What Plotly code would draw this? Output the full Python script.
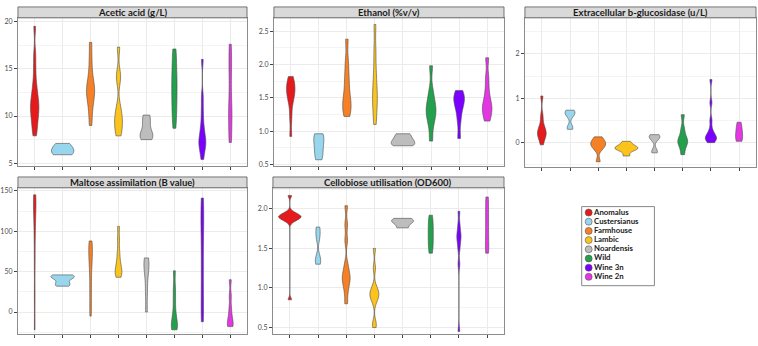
import plotly.graph_objects as go

W, H = 758, 346

groups = ["Anomalus", "Custersianus", "Farmhouse", "Lambic", "Noardensis", "Wild", "Wine 3n", "Wine 2n"]
colors = ["#E41A1C", "#97D6EC", "#F58025", "#FBC31B", "#BDBDBD", "#22A04B", "#7B00FF", "#E337E3"]

titles = ["Acetic acid (g/L)", "Ethanol (%v/v)", "Extracellular b-glucosidase (u/L)",
          "Maltose assimilation (B value)", "Cellobiose utilisation (OD600)"]

# ---- sample values (one list per group) ----
acetic = [
    [7.9, 8.6, 9.2, 9.8, 10.2, 10.6, 11.0, 11.3, 11.7, 12.2, 12.8, 13.6, 15.0, 16.5, 19.5],
    [5.9, 6.1, 6.3, 6.6, 7.1],
    [9.0, 10.5, 11.5, 12.2, 12.6, 13.0, 13.5, 14.5, 16.0, 17.8],
    [7.9, 8.5, 9.2, 9.6, 10.2, 11.0, 13.8, 14.5, 17.3],
    [7.5, 7.9, 8.2, 9.3, 10.1],
    [8.7, 10.0, 11.0, 12.0, 13.0, 13.8, 14.8, 16.0, 17.1],
    [5.4, 6.3, 6.8, 7.1, 7.4, 7.8, 8.4, 9.2, 10.5, 12.0, 16.0],
    [7.2, 8.5, 10.0, 10.8, 12.5, 14.5, 16.0, 17.6],
]
ethanol = [
    [0.92, 1.2, 1.4, 1.5, 1.55, 1.6, 1.65, 1.7, 1.75, 1.82],
    [0.57, 0.68, 0.8, 0.9, 0.96],
    [1.22, 1.3, 1.38, 1.45, 1.55, 1.7, 1.85, 2.05, 2.38],
    [1.1, 1.3, 1.45, 1.55, 1.7, 1.9, 2.2, 2.6],
    [0.78, 0.82, 0.88, 0.96],
    [0.85, 1.1, 1.22, 1.3, 1.35, 1.45, 1.6, 1.98],
    [0.89, 1.15, 1.3, 1.4, 1.45, 1.5, 1.55, 1.61],
    [1.15, 1.25, 1.32, 1.38, 1.45, 1.6, 1.8, 2.1],
]
glucosidase = [
    [-0.05, 0.1, 0.15, 0.2, 0.25, 0.3, 0.4, 0.6, 1.05],
    [0.3, 0.36, 0.6, 0.65, 0.7, 0.73],
    [-0.43, -0.15, -0.08, -0.04, 0.0, 0.05, 0.13],
    [-0.3, -0.18, -0.14, -0.12, -0.1, -0.05, 0.03],
    [-0.23, -0.18, 0.08, 0.12, 0.15, 0.18],
    [-0.27, -0.08, 0.0, 0.05, 0.12, 0.3, 0.63],
    [0.0, 0.05, 0.08, 0.1, 0.12, 0.15, 0.2, 0.3, 0.5, 0.9, 1.42],
    [0.03, 0.08, 0.15, 0.25, 0.35, 0.46],
]
maltose = [
    [-22, 20, 60, 90, 110, 125, 135, 140, 145],
    [32, 36, 42, 44, 46],
    [-5, 15, 35, 55, 65, 75, 82, 88],
    [43, 46, 50, 53, 58, 65, 75, 90, 106],
    [0, 25, 45, 55, 62, 67],
    [-22, -20, -15, -10, 0, 15, 30, 51],
    [-12, 10, 40, 70, 100, 120, 141],
    [-18, -16, -12, -5, 5, 20, 40],
]
cellobiose = [
    [0.85, 1.84, 1.86, 1.88, 1.89, 1.9, 1.9, 1.91, 1.92, 1.94, 1.96, 2.17],
    [1.3, 1.34, 1.4, 1.62, 1.7, 1.77],
    [0.8, 0.95, 1.05, 1.1, 1.15, 1.2, 1.3, 1.6, 1.8, 2.04],
    [0.5, 0.56, 0.82, 0.88, 0.91, 0.93, 0.96, 1.02, 1.25, 1.5],
    [1.76, 1.82, 1.85, 1.88],
    [1.44, 1.52, 1.6, 1.68, 1.76, 1.84, 1.92],
    [0.45, 1.3, 1.5, 1.6, 1.65, 1.7, 1.8, 1.97],
    [1.44, 1.55, 1.7, 1.85, 2.0, 2.15],
]
panels_data = [acetic, ethanol, glucosidase, maltose, cellobiose]

# tick labels
acetic_ticks = ["5", "10", "15", "20"]
ethanol_ticks = ["0.5", "1.0", "1.5", "2.0", "2.5"]
glucosidase_ticks = ["0", "1", "2"]
maltose_ticks = ["0", "50", "100", "150"]
cellobiose_ticks = ["0.5", "1.0", "1.5", "2.0"]
panel_ticks = [acetic_ticks, ethanol_ticks, glucosidase_ticks, maltose_ticks, cellobiose_ticks]

# ---- styling (not data) ----
bandwidths = [
    [0.8, 0.6, 0.9, 0.8, 0.6, 1.2, 0.7, 1.2],
    [0.1, 0.1, 0.12, 0.15, 0.05, 0.12, 0.1, 0.1],
    [0.1, 0.07, 0.08, 0.05, 0.07, 0.1, 0.08, 0.12],
    [15, 3, 12, 6, 10, 8, 20, 6],
    [0.03, 0.06, 0.07, 0.06, 0.03, 0.1, 0.06, 0.1],
]
widths = [
    [0.30, 0.80, 0.29, 0.28, 0.46, 0.19, 0.25, 0.12],
    [0.30, 0.36, 0.30, 0.17, 0.84, 0.35, 0.38, 0.34],
    [0.31, 0.35, 0.53, 0.82, 0.38, 0.35, 0.40, 0.25],
    [0.09, 0.84, 0.13, 0.24, 0.18, 0.22, 0.10, 0.21],
    [0.80, 0.19, 0.28, 0.32, 0.78, 0.18, 0.15, 0.12],
]
# pixel boxes of plot panels: (left, right, top, bottom)
boxes = [(15, 245, 16, 166), (272, 503, 16, 166), (524, 756, 16, 167),
         (15, 245, 188, 336), (271, 503, 188, 336)]
strip_h = 11
yranges = [(4.7, 20.4), (0.475, 2.70), (-0.55, 2.81), (-27.3, 153.7), (0.416, 2.266)]
minor_dt = [2.5, 0.25, 0.5, 25, 0.25]

FONT = "Lato"

fig = go.Figure()
layout = dict(width=W, height=H, margin=dict(l=0, r=0, t=0, b=0),
              paper_bgcolor="white", plot_bgcolor="white", showlegend=False,
              violinmode="overlay", shapes=[], annotations=[])

for p in range(5):
    l, r, t, b = boxes[p]
    sfx = "" if p == 0 else str(p + 1)
    xa, ya = "x" + sfx, "y" + sfx
    for g in range(8):
        vals = panels_data[p][g]
        fig.add_trace(go.Violin(
            x=[groups[g]] * len(vals), y=vals, xaxis=xa, yaxis=ya,
            name=groups[g], fillcolor=colors[g], opacity=1,
            line=dict(color="#4D4D4D", width=0.6),
            spanmode="hard", bandwidth=bandwidths[p][g], width=widths[p][g],
            scalemode="width", points=False, hoverinfo="skip"))
    ticks = panel_ticks[p]
    layout["xaxis" + sfx] = dict(
        domain=[l / W, r / W], anchor=ya, type="category", categoryorder="array",
        categoryarray=groups, range=[-0.6, 7.6], showticklabels=False,
        ticks="outside", ticklen=3, tickcolor="#444", tickwidth=0.7,
        showgrid=True, gridcolor="#EBEBEB", gridwidth=0.7,
        showline=True, mirror=True, linecolor="#8C8C8C", linewidth=1, zeroline=False)
    layout["yaxis" + sfx] = dict(
        domain=[1 - b / H, 1 - t / H], anchor=xa, range=list(yranges[p]),
        tickvals=[float(v) for v in ticks], ticktext=ticks,
        tickfont=dict(family=FONT, size=7, color="#4D4D4D"),
        ticks="outside", ticklen=3, tickcolor="#444", tickwidth=0.7,
        showgrid=True, gridcolor="#EBEBEB", gridwidth=0.7,
        minor=dict(dtick=minor_dt[p], tick0=0, showgrid=True, gridcolor="#F4F4F4", gridwidth=0.5),
        showline=True, mirror=True, linecolor="#8C8C8C", linewidth=1, zeroline=False)
    # strip
    layout["shapes"].append(dict(type="rect", xref="paper", yref="paper",
                                 x0=l / W, x1=r / W, y0=1 - t / H, y1=1 - (t - strip_h) / H,
                                 fillcolor="#D9D9D9", line=dict(color="#555555", width=0.8)))
    layout["annotations"].append(dict(xref="paper", yref="paper", x=(l + r) / 2 / W,
                                      y=1 - (t - strip_h / 2) / H, text="<b>" + titles[p] + "</b>",
                                      showarrow=False, font=dict(family=FONT, size=9.5, color="#1A1A1A"),
                                      xanchor="center", yanchor="middle"))

# ---- legend drawn as a small scatter panel ----
lg_l, lg_r, lg_t, lg_b = 581, 654, 207, 287
fig.add_trace(go.Scatter(
    x=[0.096] * 8, y=list(range(1, 9)), xaxis="x6", yaxis="y6",
    mode="markers+text", text=["<b>" + g + "</b>" for g in groups], textposition="middle right",
    textfont=dict(family=FONT, size=7.8, color="#1A1A1A"),
    marker=dict(size=7, color=colors, line=dict(color="#555555", width=0.6)),
    hoverinfo="skip", cliponaxis=False))
layout["xaxis6"] = dict(domain=[lg_l / W, lg_r / W], anchor="y6", range=[0, 1],
                        visible=False, fixedrange=True)
layout["yaxis6"] = dict(domain=[1 - lg_b / H, 1 - lg_t / H], anchor="x6", range=[8.96, 0.354],
                        visible=False, fixedrange=True)
layout["shapes"].append(dict(type="rect", xref="paper", yref="paper",
                             x0=lg_l / W, x1=lg_r / W, y0=1 - lg_b / H, y1=1 - lg_t / H,
                             fillcolor="rgba(0,0,0,0)", line=dict(color="#888888", width=1)))

fig.update_layout(**layout)
fig.write_html("out.html", config={"displayModeBar": False},
               post_script="document.body.style.margin='0';document.body.style.overflow='hidden';")
